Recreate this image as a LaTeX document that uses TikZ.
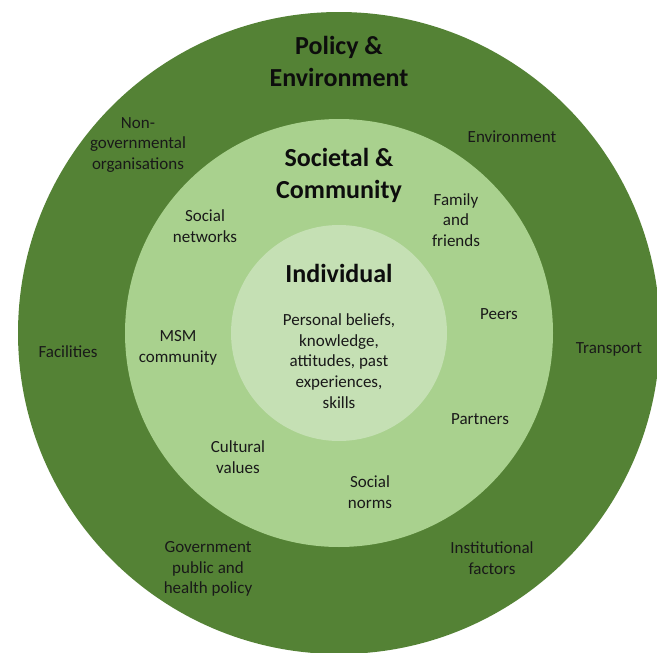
\documentclass[tikz,border=0pt]{standalone}
\usepackage{fontspec}
\setmainfont{Carlito}
\usetikzlibrary{positioning}

\definecolor{outergreen}{RGB}{84,130,53}
\definecolor{midgreen}{RGB}{169,209,142}
\definecolor{innergreen}{RGB}{197,224,180}

\begin{document}
\begin{tikzpicture}[x=1pt,y=-1pt,
    factor/.style={align=center, inner sep=0pt, text=black!90,
        font=\fontsize{17}{20.7}\selectfont},
    level/.style={align=center, inner sep=0pt, text=black!95,
        font=\fontsize{26}{32}\selectfont\bfseries}]
\useasboundingbox (0,0) rectangle (657,653);
% Rings
\coordinate (c) at (339,333);
\foreach \r/\col in {321/outergreen,214/midgreen,108/innergreen} {
    \fill[\col] (c) circle (\r pt);
}
% Policy & Environment
\node[level] (policy) at (339,61) {Policy \&\\Environment};
\node[factor] (ngo) at (138,145) {Non-\\governmental\\organisations};
\node[factor] (environment) at (512,137) {Environment};
\node[factor] (facilities) at (68,352) {Facilities};
\node[factor] (transport) at (609,349) {Transport};
\node[factor] (government) at (208,569) {Government\\public and\\health policy};
\node[factor] (institutional) at (492,558) {Institutional\\factors};
% Societal & Community
\node[level] (societal) at (339,175) {Societal \&\\Community};
\node[factor] (family) at (456,220) {Family\\and\\friends};
\node[factor] (socialnet) at (205,226) {Social\\networks};
\node[factor] (peers) at (499,314) {Peers};
\node[factor] (msm) at (178,348) {MSM\\community};
\node[factor] (partners) at (480,419) {Partners};
\node[factor] (cultural) at (238,457) {Cultural\\values};
\node[factor] (norms) at (370,492) {Social\\norms};
% Individual
\node[level] (individual) at (339,273) {Individual};
\node[factor] (personal) at (339,361) {Personal beliefs,\\knowledge,\\attitudes, past\\experiences,\\skills};
\end{tikzpicture}
\end{document}
